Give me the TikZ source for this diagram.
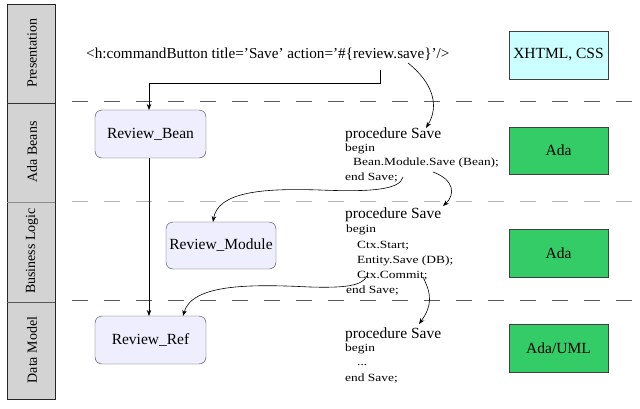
\documentclass[tikz,border=0pt]{standalone}
\usepackage{fontspec}
\setmainfont{Liberation Serif}
\newfontfamily\codefont[FakeStretch=1.22]{Liberation Serif}
\usetikzlibrary{arrows.meta}
\newcommand\sq{\char"27\relax}
\definecolor{bandgray}{HTML}{D3D3D3}
\definecolor{beanfill}{HTML}{EEEEFF}
\definecolor{cyanfill}{HTML}{CCFFFF}
\definecolor{adagreen}{HTML}{33CC66}
\begin{document}
\begin{tikzpicture}[x=1pt,y=-1pt,
  lane/.style={rotate=90,font=\fontsize{14}{16}\selectfont},
  sep/.style={draw=#1,line width=0.8pt,dash pattern=on 16pt off 16pt},
  bean/.style={draw=black!75,fill=beanfill,rounded corners=7pt,font=\fontsize{15.5}{17}\selectfont},
  lang/.style={draw=black!75,font=\fontsize{15.5}{17}\selectfont},
  big/.style={anchor=base west,inner sep=0pt,font=\fontsize{15.5}{17}\selectfont},
  small/.style={anchor=base west,inner sep=0pt,font=\codefont\fontsize{11}{13}\selectfont},
  conn/.style={draw=black,line width=0.6pt,-{Stealth[length=6pt,width=4.5pt]}}]
\useasboundingbox (0,0) rectangle (640,408);
% left band
\draw[fill=bandgray,draw=black!85,line width=0.8pt] (7,4) rectangle (55,399);
\draw[black!80,line width=0.8pt] (7,103) -- (55,103);
\draw[black!45,line width=0.8pt] (7,202) -- (55,202);
\draw[black!65,line width=0.8pt] (7,302) -- (55,302);
\node[lane] (lp) at (32,53) {Presentation};
\node[lane] (lab) at (32,152) {Ada Beans};
\node[lane] (lbl) at (32,251) {Business Logic};
\node[lane] (ldm) at (32,350) {Data Model};
% separators
\draw[sep=black!65] (72,101) -- (640,101);
\draw[sep=black!30] (72,201) -- (640,201);
\draw[sep=black!65] (72,300) -- (640,300);
% top text
\node[anchor=base west,inner sep=0pt,font=\fontsize{15.2}{17}\selectfont] (cmd) at (86,58.5)
  {<h:commandButton title=\sq Save\sq{} action=\sq\#\{review.save\}\sq/>};
% language boxes
\node[lang,fill=cyanfill,minimum width=99pt,minimum height=48pt] (xh) at (558.5,55) {XHTML, CSS};
\node[lang,fill=adagreen,minimum width=99pt,minimum height=47pt] (ada1) at (558.5,150.5) {Ada};
\node[lang,fill=adagreen,minimum width=99pt,minimum height=48pt] (ada2) at (558.5,253) {Ada};
\node[lang,fill=adagreen,minimum width=99pt,minimum height=48pt] (ada3) at (558.5,348) {Ada/UML};
% bean nodes
\node[bean,minimum width=111pt,minimum height=48pt] (rb) at (150.5,134) {Review\_Bean};
\node[bean,minimum width=110pt,minimum height=47pt] (rm) at (221,245.5) {Review\_Module};
\node[bean,minimum width=111pt,minimum height=48pt] (rr) at (150.5,340) {Review\_Ref};
% code block 1
\node[big] (p1) at (345,138.5) {procedure Save};
\node[small] (b1) at (345,151.5) {begin};
\node[small] (c1) at (353,165.5) {Bean.Module.Save (Bean);};
\node[small] (e1) at (345,180) {end Save;};
% code block 2
\node[big] (p2) at (345,218.5) {procedure Save};
\node[small] (b2) at (346,232) {begin};
\node[small] (c2a) at (357,248) {Ctx.Start;};
\node[small] (c2b) at (357,263) {Entity.Save (DB);};
\node[small] (c2c) at (357,278) {Ctx.Commit;};
\node[small] (e2) at (346,293) {end Save;};
% code block 3
\node[big] (p3) at (345,338) {procedure Save};
\node[small] (b3) at (345,351.5) {begin};
\node[small] (d3) at (357,365.5) {...};
\node[small] (e3) at (345,381.5) {end Save;};
% connectors
\coordinate (s0) at (380,70);
\coordinate (s1) at (408,63);
\coordinate (s2) at (403,177);
\coordinate (s3) at (433,172);
\coordinate (s4) at (367,276);
\coordinate (s5) at (423,277);
\draw[conn] (s0) -- (380,83) -- (149,83) -- (149,110);
\draw[conn] (rb.south -| 149,0) -- (149,316);
\draw[conn] (s1) .. controls (432,82) and (440,105) .. (426,128);
\draw[conn] (s2) .. controls (400,190) and (370,192) .. (320,190) .. controls (262,188) and (218,192) .. (213,222);
\draw[conn] (s3) .. controls (455,180) and (455,195) .. (443,206);
\draw[conn] (s4) .. controls (362,286) and (345,288) .. (310,287) .. controls (250,284) and (192,284) .. (183,316);
\draw[conn] (s5) .. controls (432,295) and (432,306) .. (419,324);
\end{tikzpicture}
\end{document}
